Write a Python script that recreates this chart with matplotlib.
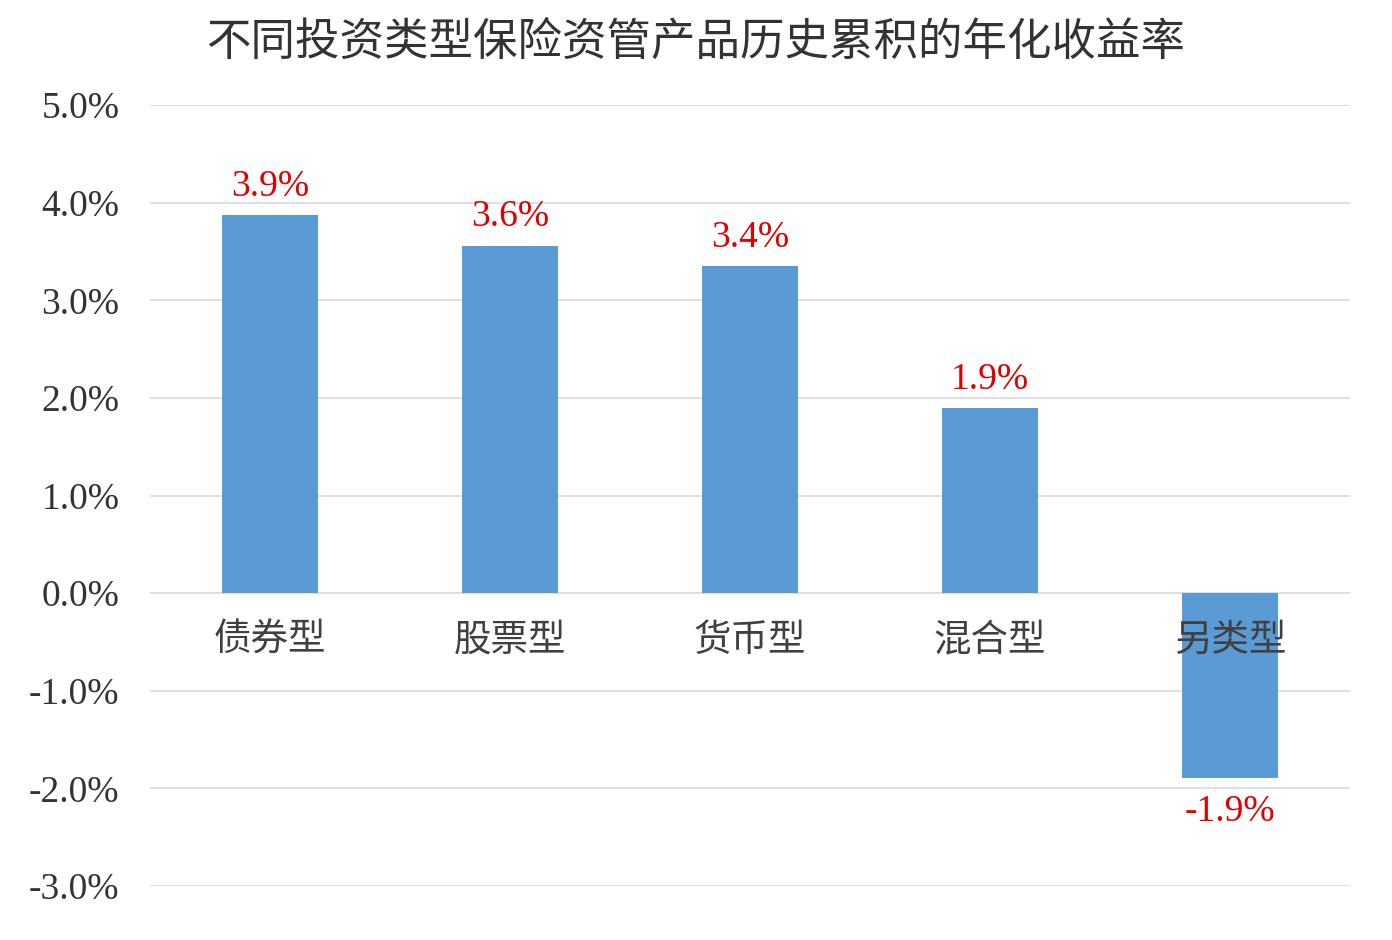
import matplotlib
matplotlib.use("Agg")
import matplotlib.pyplot as plt
import matplotlib.transforms as mtransforms
import numpy as np

plt.rcParams["font.family"] = ["Noto Sans CJK SC", "DejaVu Sans"]

TITULO = "不同投资类型保险资管产品历史累积的年化收益率"
CATEGORIAS = ["债券型", "股票型", "货币型", "混合型", "另类型"]
VALORES = [3.87, 3.56, 3.35, 1.90, -1.89]
ETIQUETAS = ["3.9%", "3.6%", "3.4%", "1.9%", "-1.9%"]
TICKS_Y = [-3, -2, -1, 0, 1, 2, 3, 4, 5]

COLOR_BARRA = "#5B9BD5"
COLOR_ROJO = "#E00000"
COLOR_TEXTO = "#333333"
FUENTE_NUM = "Liberation Serif"

fig = plt.figure(figsize=(13.92, 9.40), dpi=100)
ax = fig.add_axes([150 / 1392, (940 - 886) / 940, 1200 / 1392, (886 - 105) / 940])

x = np.arange(len(CATEGORIAS))
ax.bar(x, VALORES, width=0.4, color=COLOR_BARRA, zorder=2)

ax.set_xlim(-0.5, len(CATEGORIAS) - 0.5)
ax.set_ylim(-3, 5)
ax.set_yticks(TICKS_Y)
ax.set_yticklabels([f"{t:.1f}%" for t in TICKS_Y], fontfamily=FUENTE_NUM,
                   fontsize=27, color=COLOR_TEXTO)
ax.set_xticks([])
ax.tick_params(axis="y", length=0, pad=22)
ax.grid(axis="y", color="#D9D9D9", linewidth=1.2, zorder=0)
for lado in ax.spines.values():
    lado.set_visible(False)

# etiquetas de categoria justo debajo de la linea cero
trans = mtransforms.offset_copy(ax.transData, fig=fig, x=0, y=-34, units="points")
for xi, nombre in zip(x, CATEGORIAS):
    ax.text(xi, 0, nombre, transform=trans, ha="center", va="center",
            fontsize=27, color="#404040", zorder=3)

# etiquetas de valor en rojo
for xi, v, et in zip(x, VALORES, ETIQUETAS):
    if v >= 0:
        ax.annotate(et, (xi, v), xytext=(0, 8), textcoords="offset points",
                    ha="center", va="bottom", fontfamily=FUENTE_NUM,
                    fontsize=27, color=COLOR_ROJO)
    else:
        ax.annotate(et, (xi, v), xytext=(0, -12), textcoords="offset points",
                    ha="center", va="top", fontfamily=FUENTE_NUM,
                    fontsize=27, color=COLOR_ROJO)

fig.text(0.5, 1 - 42 / 940, TITULO, ha="center", va="center", fontsize=32,
         color="#333333", fontweight="light")

fig.savefig("out.png", dpi=100)
